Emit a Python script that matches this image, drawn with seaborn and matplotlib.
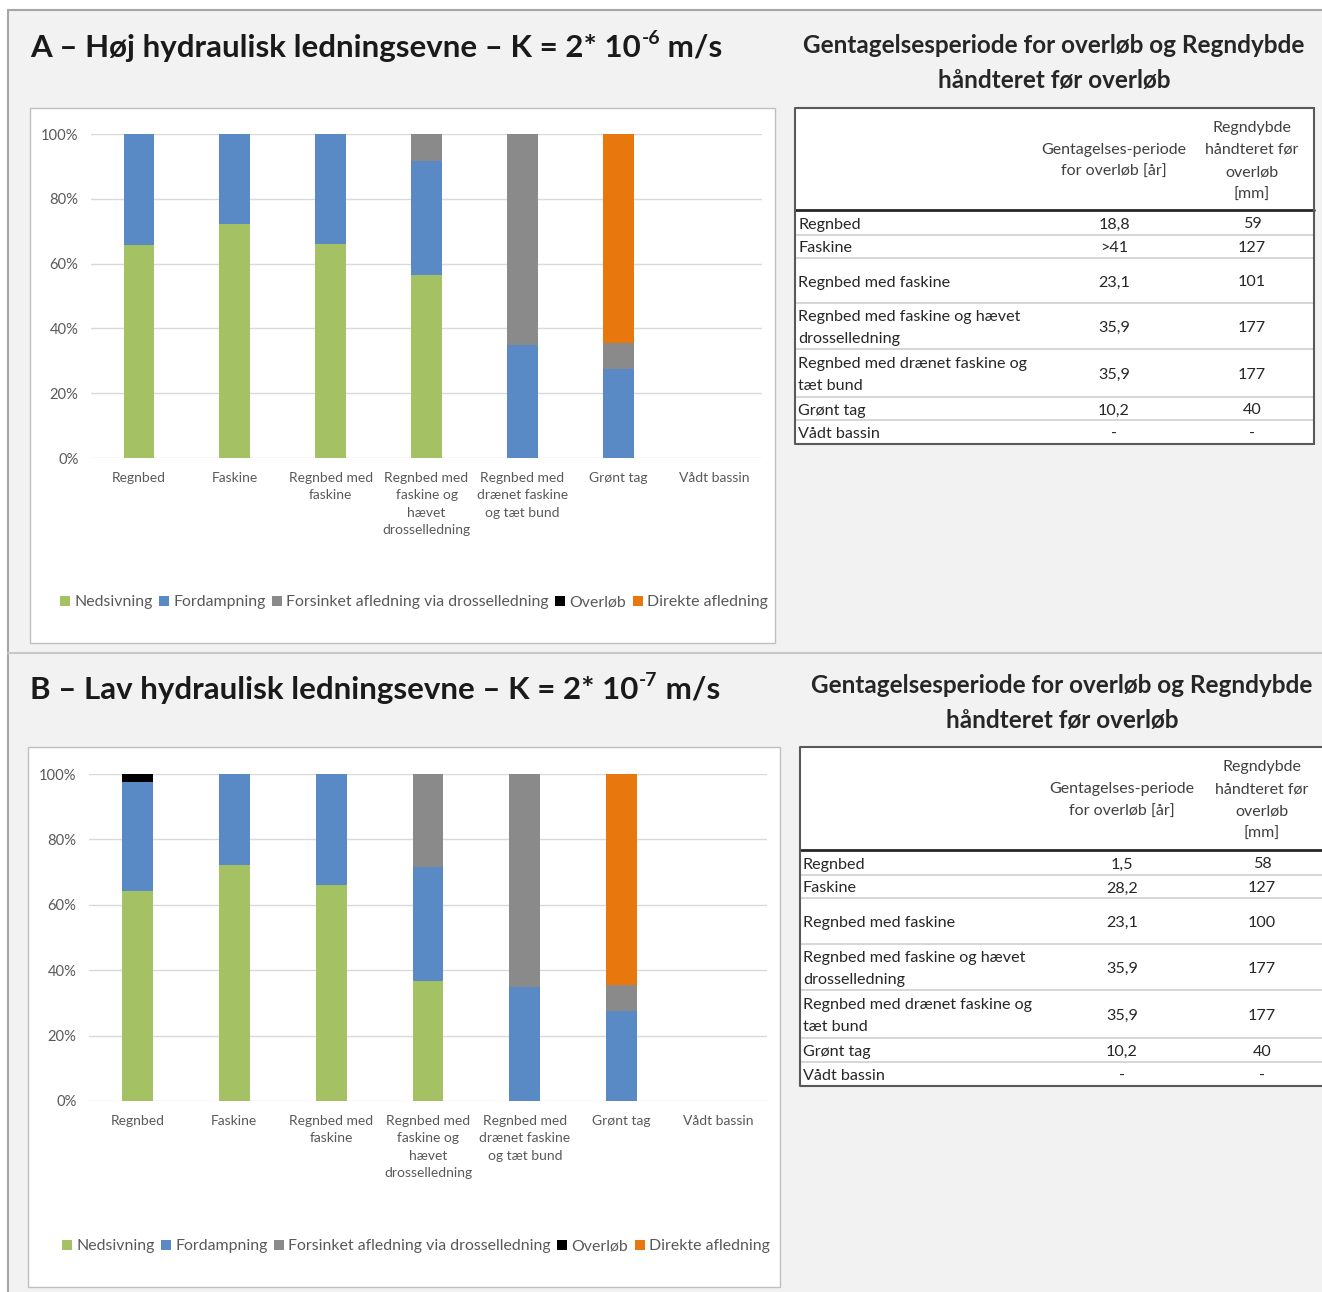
import matplotlib
matplotlib.use("Agg")
import matplotlib.pyplot as plt
import seaborn as sns
import numpy as np
from matplotlib.lines import Line2D
from matplotlib.patches import Rectangle

# ---------------- data ----------------
categories = ["Regnbed", "Faskine", "Regnbed med faskine",
              "Regnbed med faskine og hævet drosselledning",
              "Regnbed med drænet faskine og tæt bund", "Grønt tag", "Vådt bassin"]
tick_labels = ["Regnbed", "Faskine", "Regnbed med\nfaskine",
               "Regnbed med\nfaskine og\nhævet\ndrosselledning",
               "Regnbed med\ndrænet faskine\nog tæt bund", "Grønt tag", "Vådt bassin"]
components = ["Nedsivning", "Fordampning", "Forsinket afledning via drosselledning",
              "Overløb", "Direkte afledning"]

# A - high hydraulic conductivity, shares in %
a_nedsivning = [65.7, 72.3, 66.1, 56.4, 0.0, 0.0, 0.0]
a_fordampning = [34.3, 27.7, 33.9, 35.2, 34.8, 27.6, 0.0]
a_forsinket = [0.0, 0.0, 0.0, 8.4, 65.2, 8.0, 0.0]
a_overlob = [0.0, 0.0, 0.0, 0.0, 0.0, 0.0, 0.0]
a_direkte = [0.0, 0.0, 0.0, 0.0, 0.0, 64.4, 0.0]

# B - low hydraulic conductivity, shares in %
b_nedsivning = [64.1, 72.1, 66.1, 36.7, 0.0, 0.0, 0.0]
b_fordampning = [33.6, 27.9, 33.9, 34.8, 35.0, 27.5, 0.0]
b_forsinket = [0.0, 0.0, 0.0, 28.5, 65.0, 8.0, 0.0]
b_overlob = [2.3, 0.0, 0.0, 0.0, 0.0, 0.0, 0.0]
b_direkte = [0.0, 0.0, 0.0, 0.0, 0.0, 64.5, 0.0]

y_ticks = [0, 20, 40, 60, 80, 100]
y_tick_labels = ["0%", "20%", "40%", "60%", "80%", "100%"]

table_title = "Gentagelsesperiode for overløb og Regndybde\nhåndteret før overløb"
table_header_periode = "Gentagelses-periode\nfor overløb [år]"
table_header_regndybde = "Regndybde\nhåndteret før\noverløb\n[mm]"
table_rows = ["Regnbed", "Faskine", "Regnbed med faskine",
              "Regnbed med faskine og hævet\ndrosselledning",
              "Regnbed med drænet faskine og\ntæt bund", "Grønt tag", "Vådt bassin"]
a_periode = ["18,8", ">41", "23,1", "35,9", "35,9", "10,2", "-"]
a_regndybde = ["59", "127", "101", "177", "177", "40", "-"]
b_periode = ["1,5", "28,2", "23,1", "35,9", "35,9", "10,2", "-"]
b_regndybde = ["58", "127", "100", "177", "177", "40", "-"]

# ---------------- style ----------------
sns.set_style("white")
plt.rcParams["font.family"] = ["Lato", "DejaVu Sans"]

colors = ["#a4c263", "#5a8ac6", "#8a8a8a", "#000000", "#e8770e"]
TXT = "#595959"
W, H = 1322, 1292

fig = plt.figure(figsize=(W / 100, H / 100), dpi=100, facecolor="#f2f2f2")

# full-figure canvas in pixel units for boxes, lines and tables
bg = fig.add_axes([0, 0, 1, 1], zorder=0)
bg.set_xlim(0, W)
bg.set_ylim(H, 0)
bg.axis("off")
bg.add_patch(Rectangle((0, 0), W, 10, fc="white", ec="none"))
bg.add_patch(Rectangle((0, 0), 8, H, fc="white", ec="none"))
bg.plot([8, W], [10, 10], color="#a6a6a6", lw=1.5)
bg.plot([8, 8], [10, H], color="#a6a6a6", lw=1.5)
bg.plot([8, W], [653, 653], color="#c8c8c8", lw=1.5)


def px_axes(x0, y0, x1, y1, **kw):
    return fig.add_axes([x0 / W, 1 - y1 / H, (x1 - x0) / W, (y1 - y0) / H], **kw)


def title_with_sup(x, y, main, sup, tail, size):
    r = fig.canvas.get_renderer()
    t = bg.text(x, y, main, fontsize=size, fontweight="bold", color="#1a1a1a",
                va="center", ha="left")
    bb = t.get_window_extent(renderer=r)
    x1 = bg.transData.inverted().transform((bb.x1, bb.y0))[0]
    s = bg.text(x1 + 1, y - 10, sup, fontsize=size * 0.62, fontweight="bold",
                color="#1a1a1a", va="center", ha="left")
    bb2 = s.get_window_extent(renderer=r)
    x2 = bg.transData.inverted().transform((bb2.x1, bb2.y0))[0]
    bg.text(x2, y, tail, fontsize=size, fontweight="bold", color="#1a1a1a",
            va="center", ha="left")


def draw_panel(box, plot_px, shares, legend_xy):
    bx, by, bw, bh = box
    bg.add_patch(Rectangle((bx, by), bw, bh, fc="white", ec="#c0c0c0", lw=1))
    ax = px_axes(*plot_px, zorder=1)
    ax.set_facecolor("none")
    bottom = np.zeros(len(categories))
    for comp, vals, col in zip(components, shares, colors):
        sns.barplot(x=categories, y=vals, color=col, width=0.32, saturation=1,
                    errorbar=None, ax=ax, bottom=bottom, linewidth=0, zorder=2)
        bottom = bottom + np.array(vals)
    ax.set_ylim(0, 100)
    ax.set_xlim(-0.5, len(categories) - 0.5)
    ax.set_yticks(y_ticks)
    ax.set_yticklabels(y_tick_labels)
    ax.set_xticks(range(len(categories)))
    ax.set_xticklabels(tick_labels, linespacing=1.55)
    ax.set_xlabel("")
    ax.set_ylabel("")
    ax.yaxis.grid(True, color="#d9d9d9", lw=1)
    ax.set_axisbelow(True)
    for sp in ax.spines.values():
        sp.set_visible(False)
    ax.tick_params(axis="both", length=0, labelsize=10, labelcolor=TXT)
    ax.tick_params(axis="y", pad=9, labelsize=10.6)
    ax.tick_params(axis="x", pad=10)
    for lab in ax.get_xticklabels():
        lab.set_verticalalignment("top")
    handles = [Line2D([], [], marker="s", ls="none", markersize=7, color=c,
                      markeredgewidth=0) for c in colors]
    fig.legend(handles, components, loc="center",
               bbox_to_anchor=(legend_xy[0] / W, 1 - legend_xy[1] / H),
               ncol=5, frameon=False, fontsize=11.4, labelcolor=TXT,
               handlelength=0.6, handletextpad=0.25, columnspacing=0.45,
               borderaxespad=0)


def draw_table(title_xy, box, header_bottom, row_heights, periode, regndybde,
               col2_x, col3_x, right_edge):
    bg.text(title_xy[0], title_xy[1], table_title, ha="center", va="center",
            fontsize=17.5, fontweight="bold", color="#262626", linespacing=1.65)
    bx, by, bw, bh = box
    bg.add_patch(Rectangle((bx, by), bw, bh, fc="white", ec="none"))
    hc = (by + header_bottom) / 2
    bg.text(col2_x, hc + 2, table_header_periode, ha="center", va="center",
            fontsize=11.5, color="#404040", linespacing=1.75)
    bg.text(col3_x, hc + 2, table_header_regndybde, ha="center", va="center",
            fontsize=11.5, color="#404040", linespacing=1.75)
    bg.plot([bx, right_edge], [header_bottom, header_bottom], color="#262626", lw=2)
    y = header_bottom
    for i, rh in enumerate(row_heights):
        yc = y + rh / 2
        bg.text(bx + 3, yc + 2, table_rows[i], ha="left", va="center",
                fontsize=11.6, color="#262626", linespacing=1.75)
        bg.text(col2_x, yc + 2, periode[i], ha="center", va="center",
                fontsize=11.6, color="#262626")
        bg.text(col3_x, yc + 2, regndybde[i], ha="center", va="center",
                fontsize=11.6, color="#262626")
        y += rh
        if i < len(row_heights) - 1:
            bg.plot([bx, right_edge], [y, y], color="#d0d0d0", lw=1.2)
    # outer border
    bg.plot([right_edge, bx, bx, right_edge], [by, by, y, y], color="#595959", lw=1.5)
    if right_edge < W - 2:
        bg.plot([right_edge, right_edge], [by, y], color="#595959", lw=1.5)


# ---------------- panel A ----------------
title_with_sup(30, 48, "A – Høj hydraulisk ledningsevne – K = 2* 10", "-6", " m/s", 22.5)
draw_panel((30, 108, 745, 535), (91, 134, 762, 458),
           [a_nedsivning, a_fordampning, a_forsinket, a_overlob, a_direkte],
           (414, 602))
draw_table((1054, 63), (795, 108, 519, 337), 210, [25, 23, 45, 46, 48, 23, 24],
           a_periode, a_regndybde, 1114, 1252, 1314)

# ---------------- panel B ----------------
title_with_sup(30, 690, "B – Lav hydraulisk ledningsevne – K = 2* 10", "-7", " m/s", 22.5)
draw_panel((28, 747, 752, 540), (89, 774, 767, 1101),
           [b_nedsivning, b_fordampning, b_forsinket, b_overlob, b_direkte],
           (416, 1246))
draw_table((1062, 703), (800, 747, 530, 340), 850, [25, 23, 46, 46, 48, 24, 24],
           b_periode, b_regndybde, 1122, 1262, W)

fig.savefig("out.png", dpi=100, facecolor=fig.get_facecolor())
